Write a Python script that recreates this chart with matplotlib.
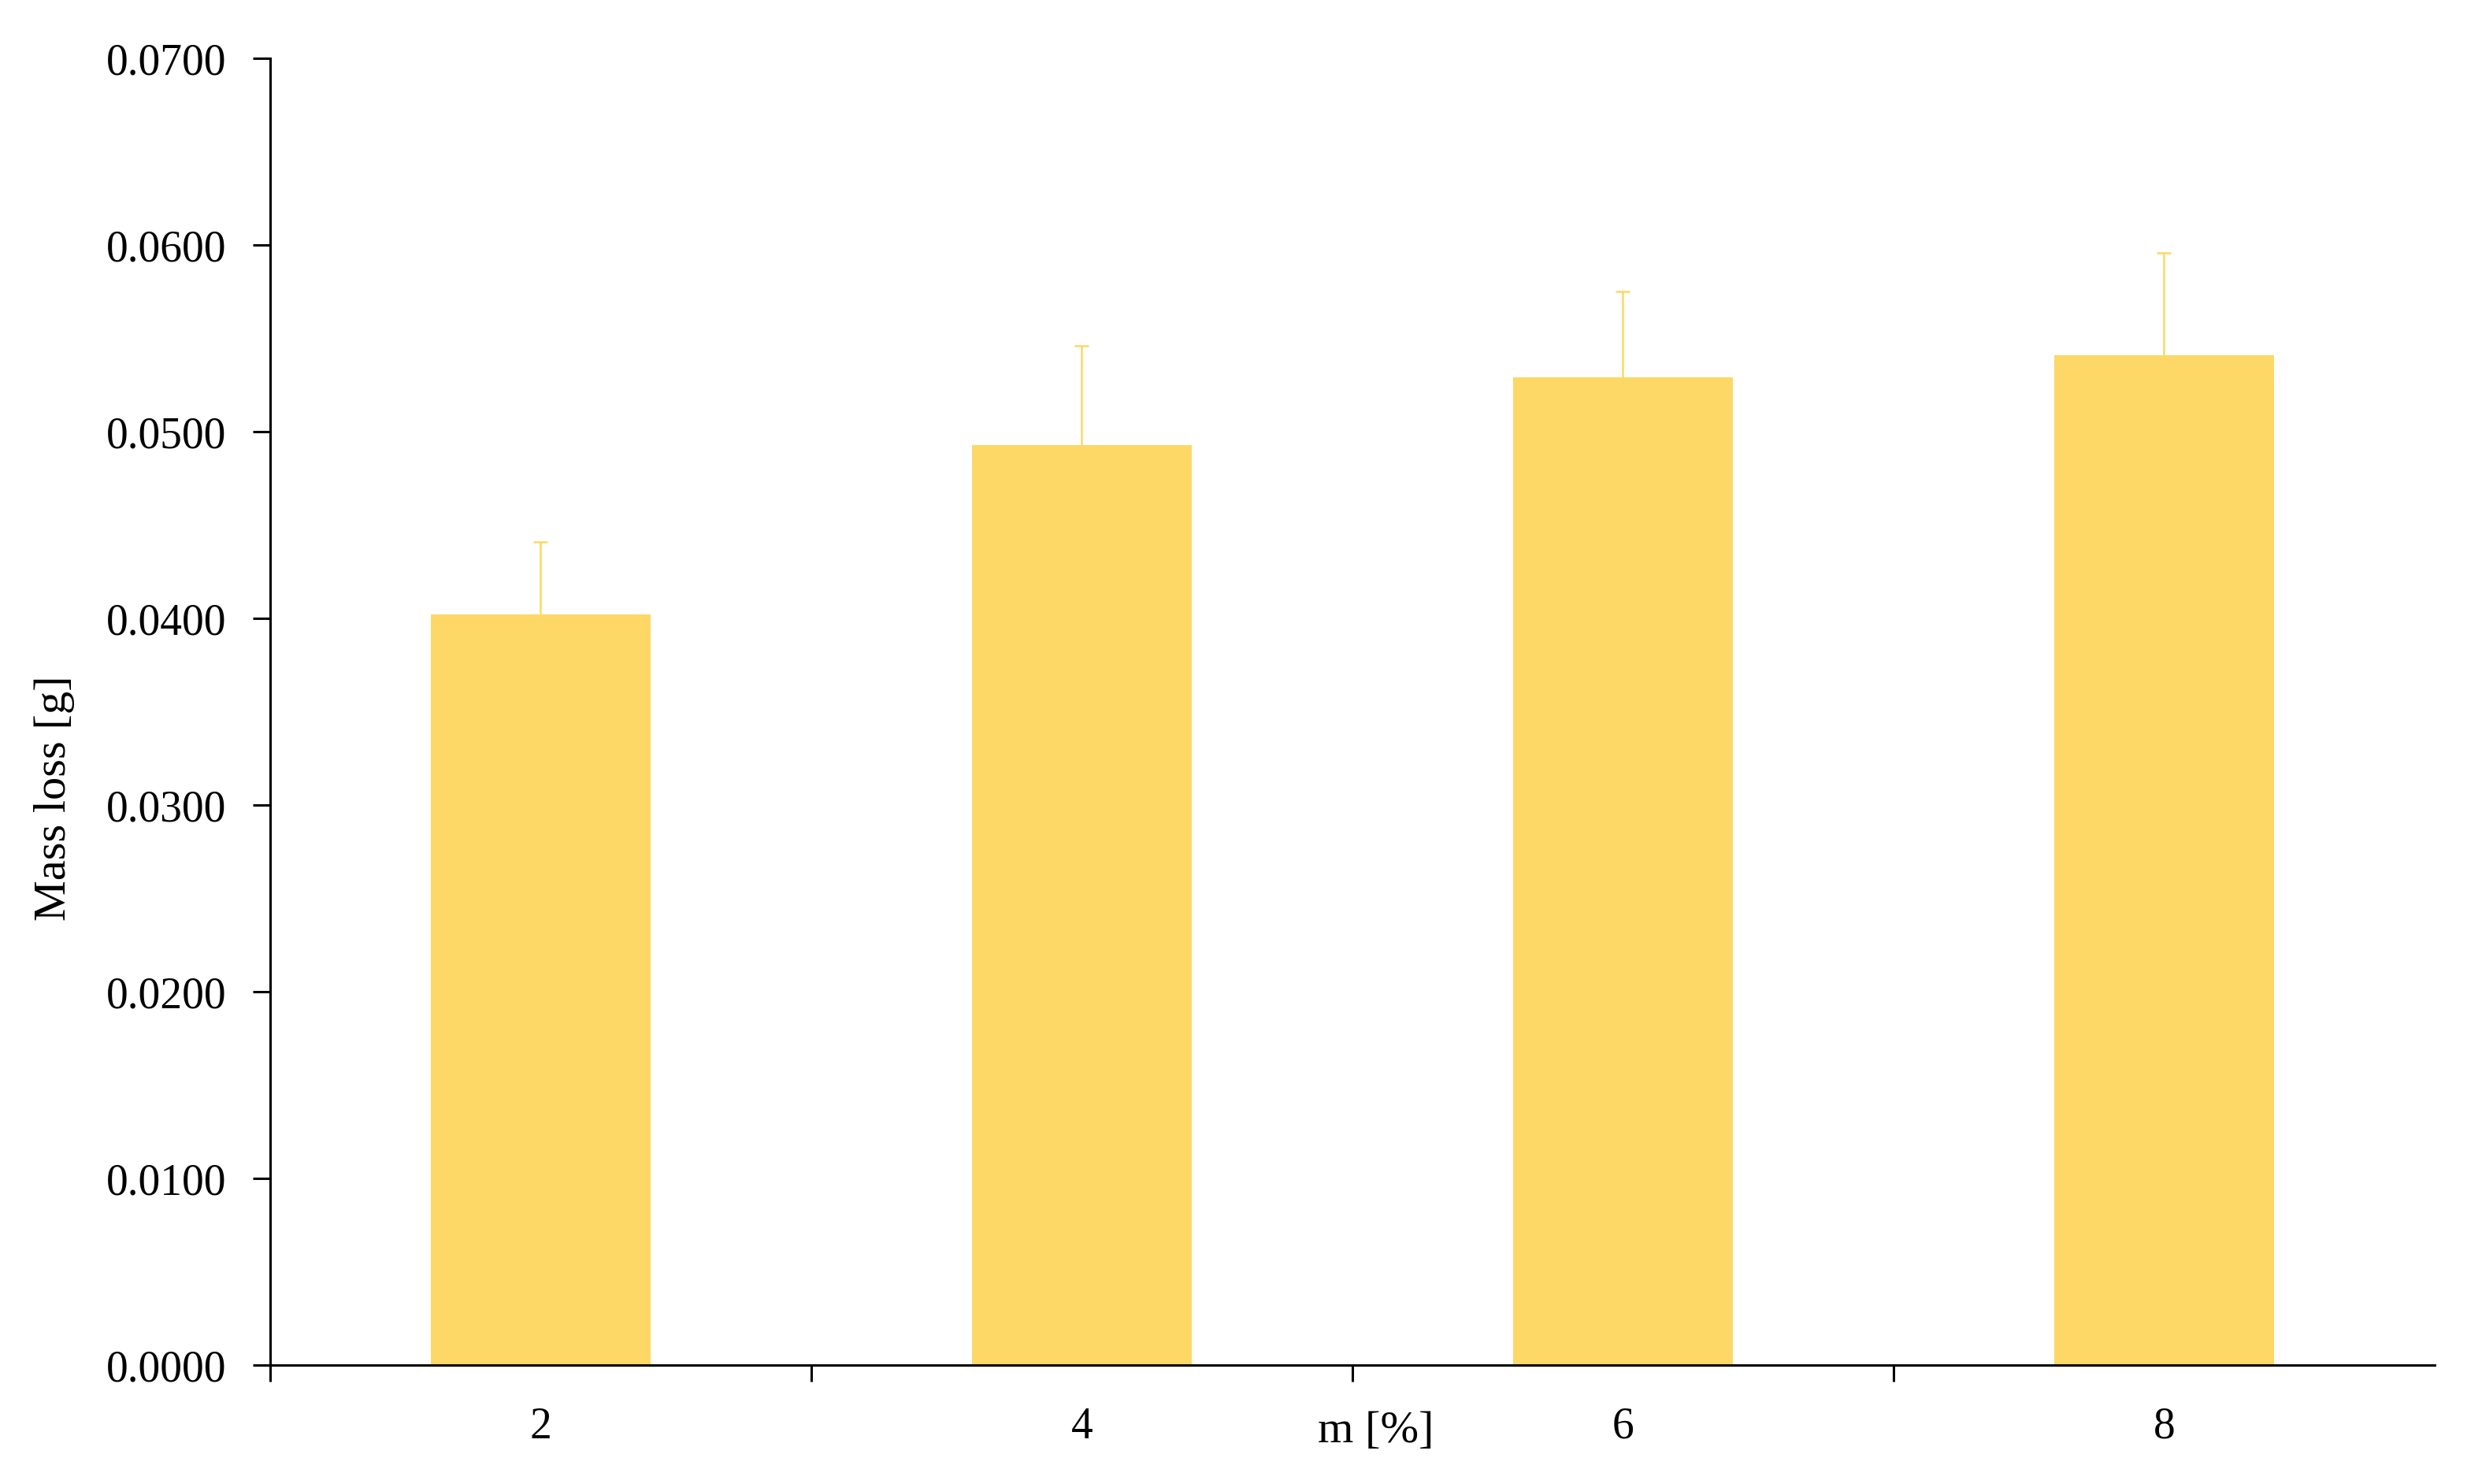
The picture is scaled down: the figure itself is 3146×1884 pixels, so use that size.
import matplotlib
matplotlib.use('Agg')
import matplotlib.pyplot as plt
import numpy as np

plt.rcParams['font.family'] = ['Liberation Serif', 'DejaVu Serif']

categories = ['2', '4', '6', '8']
mass_loss = [0.0402, 0.0493, 0.0529, 0.0541]
mass_err = [0.0039, 0.0053, 0.0046, 0.0055]
yticks = [0.0, 0.01, 0.02, 0.03, 0.04, 0.05, 0.06, 0.07]

bar_color = '#FDD866'

fig = plt.figure(figsize=(15.73, 9.42), dpi=200)
ax = fig.add_axes([0.1090, 0.0801, 0.8735, 0.8806])

x = np.arange(len(categories))
ax.bar(x, mass_loss, width=0.405, color=bar_color, zorder=2)
# error bars go behind the bars so only the upper half shows
ax.errorbar(x, mass_loss, yerr=mass_err, fmt='none',
            ecolor=bar_color, elinewidth=0.9, capsize=3.2, capthick=0.9, zorder=1)

ax.set_xlim(-0.5, len(categories) - 0.5)
ax.set_ylim(0, 0.07)
ax.set_yticks(yticks)
ax.set_yticklabels(['%.4f' % v for v in yticks])

# category ticks sit between bars, labels sit under the bars
ax.set_xticks(np.arange(len(categories)) - 0.5)
ax.set_xticklabels([])
ax.set_xticks(x, minor=True)
ax.set_xticklabels(categories, minor=True)

ax.spines['top'].set_visible(False)
ax.spines['right'].set_visible(False)
ax.spines['left'].set_linewidth(1.1)
ax.spines['bottom'].set_linewidth(1.1)

ax.tick_params(axis='y', which='major', direction='out', length=8, width=1.1,
               pad=12, labelsize=20)
ax.tick_params(axis='x', which='major', direction='out', length=7.5, width=1.1)
ax.tick_params(axis='x', which='minor', length=0, pad=19, labelsize=20)

ax.set_ylabel('Mass loss [g]', fontsize=21)
ax.yaxis.set_label_coords(-0.0902, 0.434)
ax.set_xlabel('m [%]', fontsize=21)
ax.xaxis.set_label_coords(0.511, -0.035)

plt.savefig('out.png', dpi=200)
